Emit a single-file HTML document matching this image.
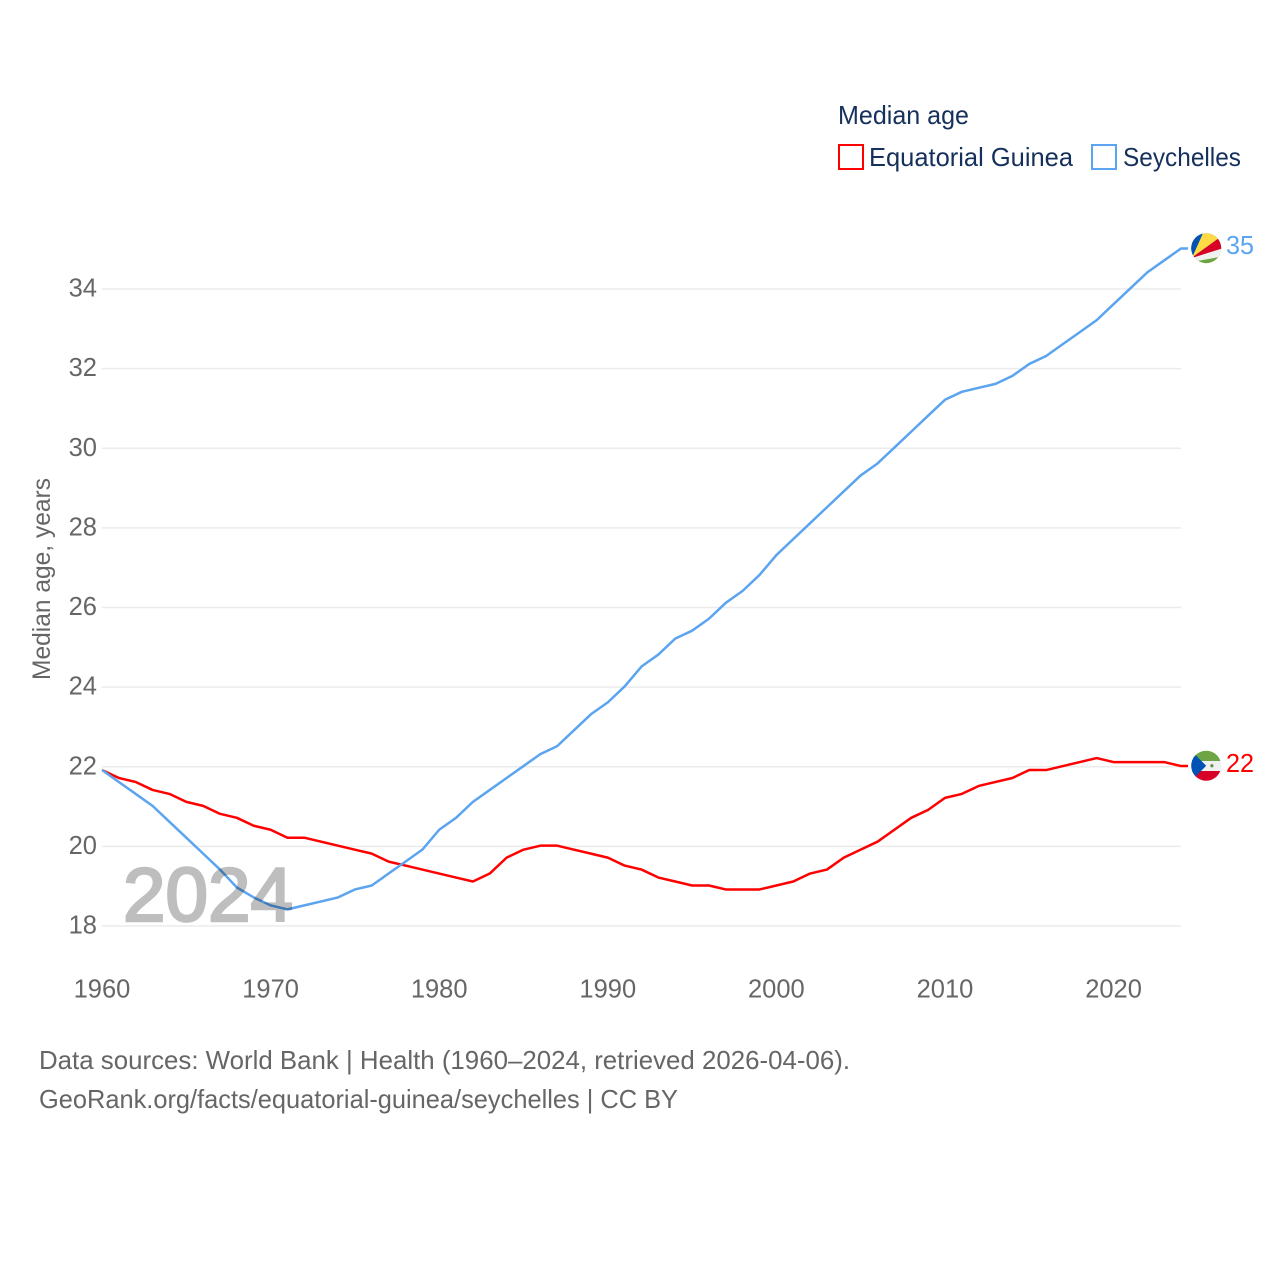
<!DOCTYPE html>
<html>
<head>
<meta charset="utf-8">
<title>Median age</title>
<style>
html,body{margin:0;padding:0;background:#fff;}
svg{display:block;font-family:"Liberation Sans",sans-serif;}
</style>
</head>
<body>
<svg id="chart" width="1280" height="1280" viewBox="0 0 1280 1280" xmlns="http://www.w3.org/2000/svg">
  <rect x="0" y="0" width="1280" height="1280" fill="#ffffff"/>
  <defs>
    <clipPath id="flag-clip"><circle cx="0" cy="0" r="15"/></clipPath>
  </defs>
  <g id="grid"></g>
  <g id="yticks"></g>
  <g id="xticks"></g>
  <text transform="translate(50,680) rotate(-90)" font-size="25" fill="#666666" textLength="202" lengthAdjust="spacingAndGlyphs">Median age, years</text>
  <g id="series" transform="translate(0,-0.7)"></g>
  <text x="123" y="921" font-size="76" fill="#000000" stroke="#000000" stroke-width="2.6" opacity="0.25" textLength="170" lengthAdjust="spacingAndGlyphs">2024</text>
  <g id="ends"></g>

  <g>
    <text x="838" y="124" font-size="26" fill="#15305b" textLength="131" lengthAdjust="spacingAndGlyphs">Median age</text>
    <g>
      <rect x="839" y="145" width="24" height="24" fill="#ffffff" stroke="#ff0000" stroke-width="2"/>
      <text x="869" y="166" font-size="26" fill="#15305b" textLength="204" lengthAdjust="spacingAndGlyphs">Equatorial Guinea</text>
    </g>
    <g>
      <rect x="1092" y="145" width="24" height="24" fill="#ffffff" stroke="#5ba4f0" stroke-width="2"/>
      <text x="1123" y="166" font-size="26" fill="#15305b" textLength="118" lengthAdjust="spacingAndGlyphs">Seychelles</text>
    </g>
  </g>

  <text x="39" y="1069" font-size="26" fill="#666666" textLength="811" lengthAdjust="spacingAndGlyphs">Data sources: World Bank | Health (1960–2024, retrieved 2026-04-06).</text>
  <text x="39" y="1108" font-size="26" fill="#666666" textLength="639" lengthAdjust="spacingAndGlyphs">GeoRank.org/facts/equatorial-guinea/seychelles | CC BY</text>
</svg>
<script>
const startYear = 1960;
const yTickValues = [18, 20, 22, 24, 26, 28, 30, 32, 34];
const xTickYears = [1960, 1970, 1980, 1990, 2000, 2010, 2020];
const equatorialGuinea = [21.9,21.7,21.6,21.4,21.3,21.1,21.0,20.8,20.7,20.5,20.4,20.2,20.2,20.1,20.0,19.9,19.8,19.6,19.5,19.4,19.3,19.2,19.1,19.3,19.7,19.9,20.0,20.0,19.9,19.8,19.7,19.5,19.4,19.2,19.1,19.0,19.0,18.9,18.9,18.9,19.0,19.1,19.3,19.4,19.7,19.9,20.1,20.4,20.7,20.9,21.2,21.3,21.5,21.6,21.7,21.9,21.9,22.0,22.1,22.2,22.1,22.1,22.1,22.1,22.0];
const seychelles = [21.9,21.6,21.3,21.0,20.6,20.2,19.8,19.4,18.95,18.7,18.5,18.4,18.5,18.6,18.7,18.9,19.0,19.3,19.6,19.9,20.4,20.7,21.1,21.4,21.7,22.0,22.3,22.5,22.9,23.3,23.6,24.0,24.5,24.8,25.2,25.4,25.7,26.1,26.4,26.8,27.3,27.7,28.1,28.5,28.9,29.3,29.6,30.0,30.4,30.8,31.2,31.4,31.5,31.6,31.8,32.1,32.3,32.6,32.9,33.2,33.6,34.0,34.4,34.7,35.0];

const NS = 'http://www.w3.org/2000/svg';
function xScale(year) { return 102 + (year - 1960) * (1181 - 102) / 64; }
function yScale(v) { return 926 - (v - 18) * (926 - 289) / 16; }
function make(tag, attrs, parent) {
  const el = document.createElementNS(NS, tag);
  for (const k in attrs) el.setAttribute(k, attrs[k]);
  parent.appendChild(el);
  return el;
}

const gridG = document.getElementById('grid');
const yG = document.getElementById('yticks');
const xG = document.getElementById('xticks');
const seriesG = document.getElementById('series');
const endsG = document.getElementById('ends');

yTickValues.forEach(function (v) {
  const line = make('line', {x1: 102, x2: 1181, y1: yScale(v), y2: yScale(v), stroke: '#ebebeb', 'stroke-width': 1.5}, gridG);
  
  
  const t = make('text', {x: 97, y: yScale(v) + 7.5, 'font-size': 25.5, fill: '#666666', 'text-anchor': 'end'}, yG);
  
  
  t.textContent = v;
});

xTickYears.forEach(function (yr) {
  const t = make('text', {x: xScale(yr), y: 997.5, 'font-size': 25.5, fill: '#666666', 'text-anchor': 'middle'}, xG);
  
  
  t.textContent = yr;
});

function drawSeries(values, color, name) {
  const pts = values.map(function (v, i) { return xScale(startYear + i).toFixed(2) + ',' + yScale(v).toFixed(2); });
  const lastY = yScale(values[values.length - 1]);
  pts.push('1188,' + lastY.toFixed(2));
  const line = make('polyline', {points: pts.join(' '), fill: 'none', stroke: color, 'stroke-width': 2.5, 'stroke-linejoin': 'round'}, seriesG);
  
  
}
drawSeries(equatorialGuinea, '#ff0000', 'equatorial-guinea');
drawSeries(seychelles, '#5ba4f0', 'seychelles');

function drawEnd(values, color, name, bands, dots, nudge) {
  const v = values[values.length - 1];
  const y = yScale(v) + nudge;
  const flag = make('g', {transform: 'translate(1206.2,' + y.toFixed(2) + ')', 'clip-path': 'url(#flag-clip)'}, endsG);
  
  
  bands.forEach(function (b) { make('polygon', {points: b[0], fill: b[1]}, flag); });
  dots.forEach(function (d) { make('circle', {cx: d[0], cy: d[1], r: d[2], fill: d[3]}, flag); });
  return make('text', {x: 1226, y: y + 6, 'font-size': 25.5, fill: color, textLength: 28, lengthAdjust: 'spacingAndGlyphs'}, endsG);
}
const seyBands = [
  ['-20,-20 20,-20 20,20 -20,20', '#6da544'],
  ['-15,14 -15,9 20,-1 20,7.5', '#f0f0f0'],
  ['-15,10 20,-15.5 20,-1', '#d80027'],
  ['-14,9 -1,-20 20,-20 20,-15.5', '#ffda44'],
  ['-14,9 -20,-20 -1,-20', '#0052b4']
];
const eqgBands = [
  ['-20,-20 20,-20 20,-4.7 -20,-4.7', '#6da544'],
  ['-20,-4.7 20,-4.7 20,5.3 -20,5.3', '#f0f0f0'],
  ['-20,5.3 20,5.3 20,20 -20,20', '#d80027'],
  ['-16,-16 0,0 -16,16 -20,16 -20,-16', '#0052b4']
];
const eqgDots = [[5.7, 0, 1.6, '#5f8f4a']];
const seyLabel = drawEnd(seychelles, '#5ba4f0', 'seychelles', seyBands, [], -1);


seyLabel.textContent = Math.round(seychelles[seychelles.length - 1]);
const eqgLabel = drawEnd(equatorialGuinea, '#ff0000', 'equatorial-guinea', eqgBands, eqgDots, -1);


eqgLabel.textContent = Math.round(equatorialGuinea[equatorialGuinea.length - 1]);
</script>
</body>
</html>
